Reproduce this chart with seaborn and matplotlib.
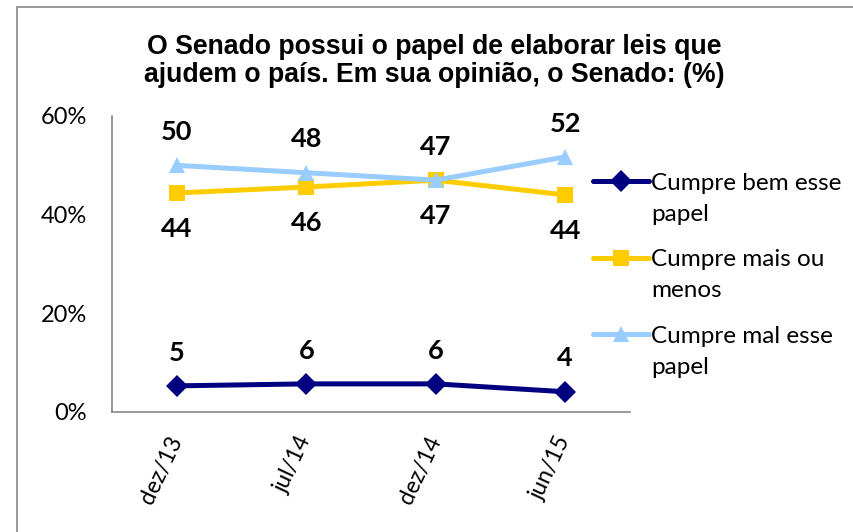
import matplotlib
matplotlib.use("Agg")
import matplotlib.pyplot as plt
import matplotlib.patches as mpatches
import seaborn as sns
import pandas as pd

periods = ["dez/13", "jul/14", "dez/14", "jun/15"]
series_names = ["Cumpre bem esse\npapel", "Cumpre mais ou\nmenos", "Cumpre mal esse\npapel"]
bem = [5.3, 5.7, 5.7, 4.1]
mais_ou_menos = [44.4, 45.6, 47.0, 44.0]
mal = [50.0, 48.5, 47.0, 51.7]
bem_labels = [5, 6, 6, 4]
mais_labels = [44, 46, 47, 44]
mal_labels = [50, 48, 47, 52]
y_ticks = [0, 20, 40, 60]

colors = ["#000080", "#FFCC00", "#99CCFF"]

rows = []
for name, vals in zip(series_names, [bem, mais_ou_menos, mal]):
    for i, v in enumerate(vals):
        rows.append({"pos": i, "value": v, "serie": name})
df = pd.DataFrame(rows)

sns.set_style("white")
plt.rcParams["font.family"] = ["Lato", "DejaVu Sans"]
plt.rcParams["text.color"] = "black"
plt.rcParams["xtick.color"] = "black"
plt.rcParams["ytick.color"] = "black"

fig = plt.figure(figsize=(8.54, 5.32), dpi=100)
ax = fig.add_axes([112 / 854, 1 - 412 / 532, 518 / 854, 296 / 532])

sns.lineplot(data=df, x="pos", y="value", hue="serie", style="serie",
             palette=colors, markers=["D", "s", "^"], dashes=False,
             linewidth=3.6, markersize=11.5, markeredgewidth=0, ax=ax)

# data labels
for i in range(len(periods)):
    ax.annotate(str(bem_labels[i]), (i, bem[i]), xytext=(0, 24), textcoords="offset points",
                ha="center", va="center", fontsize=19.5, fontweight="bold")
    ax.annotate(str(mal_labels[i]), (i, mal[i]), xytext=(0, 24), textcoords="offset points",
                ha="center", va="center", fontsize=19.5, fontweight="bold")
    ax.annotate(str(mais_labels[i]), (i, mais_ou_menos[i]), xytext=(0, -26), textcoords="offset points",
                ha="center", va="center", fontsize=19.5, fontweight="bold")

ax.set_xlim(-0.5, 3.5)
ax.set_ylim(0, 60)
ax.set_yticks(y_ticks)
ax.set_yticklabels([f"{t}%" for t in y_ticks], fontsize=17)
ax.set_xticks([-0.5, 0.5, 1.5, 2.5, 3.5])
ax.set_xticklabels([])
ax.set_xticks(range(len(periods)), minor=True)
ax.set_xticklabels(periods, minor=True, rotation=65, ha="right", va="center",
                   rotation_mode="anchor", fontsize=16.5)
ax.tick_params(axis="x", which="minor", length=0, pad=18)
ax.tick_params(axis="x", which="major", length=6, width=1, color="#868686", direction="out")
ax.tick_params(axis="y", length=6, width=1, color="#868686", direction="out", pad=12)
ax.set_xlabel("")
ax.set_ylabel("")
for s in ["top", "right"]:
    ax.spines[s].set_visible(False)
for s in ["left", "bottom"]:
    ax.spines[s].set_color("#868686")
    ax.spines[s].set_linewidth(1.2)

handles, labels = ax.get_legend_handles_labels()
leg = ax.legend(handles, labels, loc="upper left", bbox_to_anchor=(583 / 854, 1 - 163 / 532),
                bbox_transform=fig.transFigure, frameon=False, fontsize=17.5,
                handlelength=2.3, handletextpad=0.1, labelspacing=1.0, borderaxespad=0)
for col in leg._legend_handle_box.get_children():
    for item in col.get_children():
        item.align = "top"
for t in leg.get_texts():
    t.set_linespacing(1.6)

fig.text(0.509, 1 - 61 / 532,
         "O Senado possui o papel de elaborar leis que\najudem o país. Em sua opinião, o Senado: (%)",
         ha="center", va="center", fontsize=19.2, fontweight="bold",
         family=["Liberation Sans", "DejaVu Sans"], linespacing=1.1)

fig.patches.append(mpatches.Rectangle((17 / 854, -0.1), 1.0, 1 - 7 / 532 + 0.1,
                                      transform=fig.transFigure, fill=False,
                                      edgecolor="#868686", linewidth=1.2))

fig.savefig("out.png", dpi=100)
